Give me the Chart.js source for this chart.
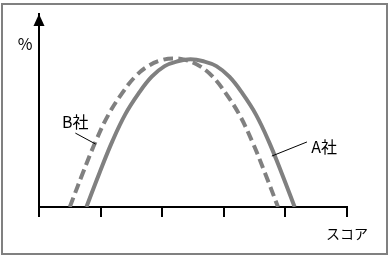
<!DOCTYPE html>
<html>

<head>
    <title>スコア分布</title>
    <script src="https://cdn.jsdelivr.net/npm/chart.js"></script>
    <style>
        body { margin: 0; background: #fff; }
        #wrap { position: relative; width: 390px; height: 257px; }
        #frame { position: absolute; left: 1px; top: 3px; width: 387px; height: 252px;
                 border: 2px solid #808080; box-sizing: border-box; pointer-events: none; }
        canvas { position: absolute; left: 0; top: 0; }
    </style>
</head>

<body>
    <div id="wrap">
        <canvas id="scoreChart" width="390" height="257"></canvas>
        <div id="frame"></div>
    </div>
    <script>
        // score (x) and share % (y)
        var scoreA = [0.77, 0.98, 1.19, 1.40, 1.62, 1.83, 2.04, 2.25, 2.46, 2.67, 2.88, 3.09, 3.30, 3.52, 3.73, 3.94, 4.15];
        var shareA = [0, 17.5, 34, 48, 59, 67.5, 73, 75.5, 76.5, 75.5, 73, 67.5, 59, 48, 34, 17.5, 0];
        var scoreB = [0.50, 0.71, 0.92, 1.13, 1.35, 1.56, 1.77, 1.98, 2.19, 2.40, 2.61, 2.82, 3.03, 3.25, 3.46, 3.67, 3.88];
        var shareB = [0, 17.5, 34, 48, 59, 67.5, 73, 76, 77, 76, 73, 67.5, 59, 48, 34, 17.5, 0];
        var seriesNames = ['A社', 'B社'];
        var xTitle = 'スコア';
        var yTitle = '%';

        function toPoints(xs, ys) {
            return xs.map(function (x, i) { return { x: x, y: ys[i] }; });
        }

        var jpFont = '"Noto Sans CJK JP", "Noto Sans", sans-serif';

        // axis arrow, axis titles and the two callout labels
        var decorations = {
            id: 'decorations',
            afterDraw: function (chart) {
                var ctx = chart.ctx;
                var area = chart.chartArea;
                var xs = chart.scales.x, ys = chart.scales.y;
                ctx.save();
                // arrow head on the y axis
                ctx.fillStyle = '#000';
                ctx.beginPath();
                ctx.moveTo(area.left, area.top);
                ctx.lineTo(area.left - 5.5, area.top + 12);
                ctx.lineTo(area.left + 5.5, area.top + 12);
                ctx.closePath();
                ctx.fill();

                ctx.textAlign = 'center';
                ctx.textBaseline = 'middle';
                ctx.font = '16px ' + jpFont;
                ctx.fillText(yTitle, area.left - 14, area.top + 30);
                ctx.font = '14px ' + jpFont;
                ctx.fillText(xTitle, area.right, area.bottom + 27);

                // callouts
                ctx.font = '16px ' + jpFont;
                ctx.strokeStyle = '#000';
                ctx.lineWidth = 1;
                ctx.fillText(seriesNames[1], xs.getPixelForValue(0.59), ys.getPixelForValue(44));
                ctx.beginPath();
                ctx.moveTo(xs.getPixelForValue(0.59), ys.getPixelForValue(38.3));
                ctx.lineTo(xs.getPixelForValue(0.92), ys.getPixelForValue(32.6));
                ctx.stroke();

                ctx.fillText(seriesNames[0], xs.getPixelForValue(4.63), ys.getPixelForValue(31));
                ctx.beginPath();
                ctx.moveTo(xs.getPixelForValue(4.35), ys.getPixelForValue(33.7));
                ctx.lineTo(xs.getPixelForValue(3.78), ys.getPixelForValue(26.4));
                ctx.stroke();
                ctx.restore();
            }
        };

        var ctx = document.getElementById('scoreChart').getContext('2d');
        var chart = new Chart(ctx, {
            type: 'scatter',
            data: {
                datasets: [{
                    label: seriesNames[0],
                    data: toPoints(scoreA, shareA),
                    showLine: true,
                    borderColor: '#808080',
                    borderWidth: 4,
                    pointRadius: 0,
                    tension: 0.4
                }, {
                    label: seriesNames[1],
                    data: toPoints(scoreB, shareB),
                    showLine: true,
                    borderColor: '#808080',
                    borderWidth: 4,
                    borderDash: [10, 5],
                    pointRadius: 0,
                    tension: 0.4
                }]
            },
            options: {
                responsive: false,
                animation: false,
                events: [],
                layout: {
                    padding: { left: 39, right: 43, top: 14, bottom: 40 }
                },
                plugins: {
                    legend: { display: false },
                    tooltip: { enabled: false }
                },
                scales: {
                    x: {
                        type: 'linear',
                        min: 0,
                        max: 5,
                        ticks: { display: false, stepSize: 1 },
                        grid: { drawOnChartArea: false, drawTicks: true, tickLength: 10, color: '#000', lineWidth: 2 },
                        border: { color: '#000', width: 2 }
                    },
                    y: {
                        min: 0,
                        max: 100,
                        ticks: { display: false },
                        grid: { display: false, drawTicks: false },
                        border: { color: '#000', width: 2 }
                    }
                }
            },
            plugins: [decorations]
        });
    </script>
</body>

</html>
